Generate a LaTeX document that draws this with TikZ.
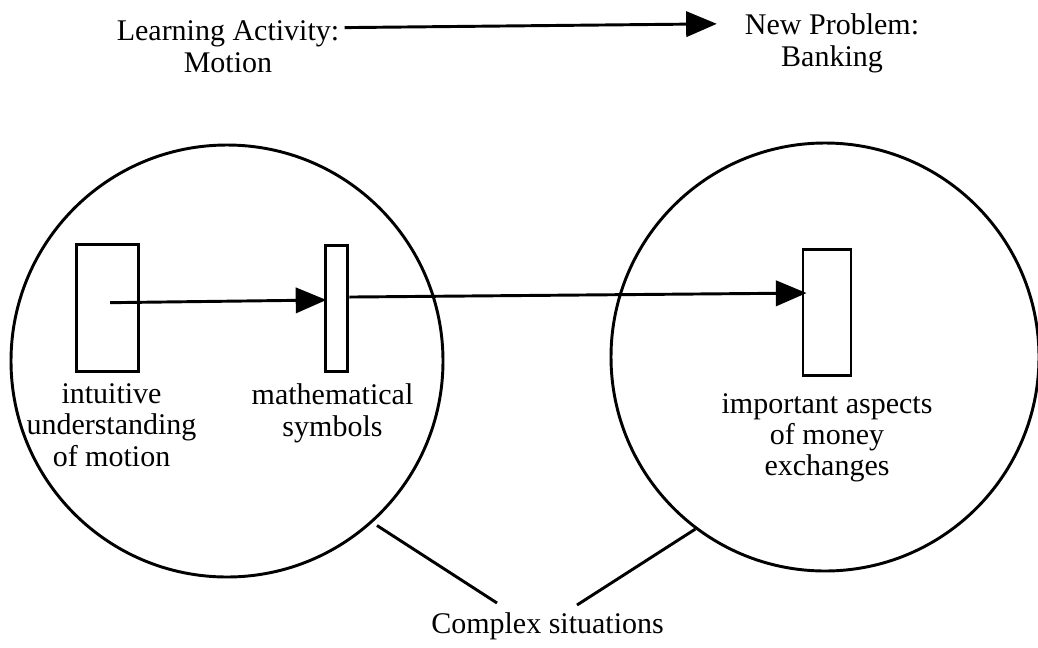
\documentclass[tikz,border=0pt]{standalone}
\usepackage{fontspec}
\setmainfont{Liberation Serif}
\usetikzlibrary{arrows.meta,positioning}
\tikzset{
  box/.style={draw, minimum width=#1, minimum height=95pt, inner sep=0pt},
  ring/.style={draw, circle, minimum size=#1, inner sep=0pt},
  lbl/.style={align=center, inner sep=0pt, font=\fontsize{22.5}{23.5}\selectfont},
  flow/.style={-{Triangle[length=23pt,width=19pt]}}
}

\begin{document}
\begin{tikzpicture}[x=0.75pt, y=-0.75pt, line width=2.2pt]
        \useasboundingbox (0,0) rectangle (1038,647);
        \node[ring=324pt] (motion) at (227,361) {};
        \node[ring=321pt] (banking) at (825,357) {};
        \node[box=47pt] (ubox) at (107.5,308) {};
        \node[box=17pt] (mbox) at (336.5,308.5) {};
        \node[box=36pt] (rbox) at (827,312.5) {};
        \node[lbl, below=7pt of ubox, xshift=3pt] (ulbl) {intuitive\\understanding\\of motion};
        \node[lbl, below=7pt of mbox, xshift=-3pt] (mlbl) {mathematical\\symbols};
        \node[lbl, below=11pt of rbox] (rlbl) {important aspects\\of money\\exchanges};
        \node[lbl, anchor=north] (learn) at (228,19.6) {Learning Activity:\\Motion};
        \node[lbl, anchor=north] (newprob) at (832,12.5) {New Problem:\\Banking};
        \node[lbl, anchor=base] (cplx) at (547.5,633) {Complex situations};
        \coordinate (lfoot) at (497,603);
        \coordinate (rfoot) at (577,605);
        \draw[flow] ([shift={(3pt,-6pt)}]learn.north east) -- ([shift={(-20pt,-8.5pt)}]newprob.north west);
        \draw[flow] ([shift={(2pt,4pt)}]ubox.center) -- ([shift={(2pt,6.4pt)}]mbox.west);
        \draw[flow] ([yshift=8.6pt]mbox.east) -- ([shift={(3.75pt,14.6pt)}]rbox.west);
        \draw[shorten <=4pt] (motion.-48) -- (lfoot);
        \draw (banking.233) -- (rfoot);
      \end{tikzpicture}
\end{document}
